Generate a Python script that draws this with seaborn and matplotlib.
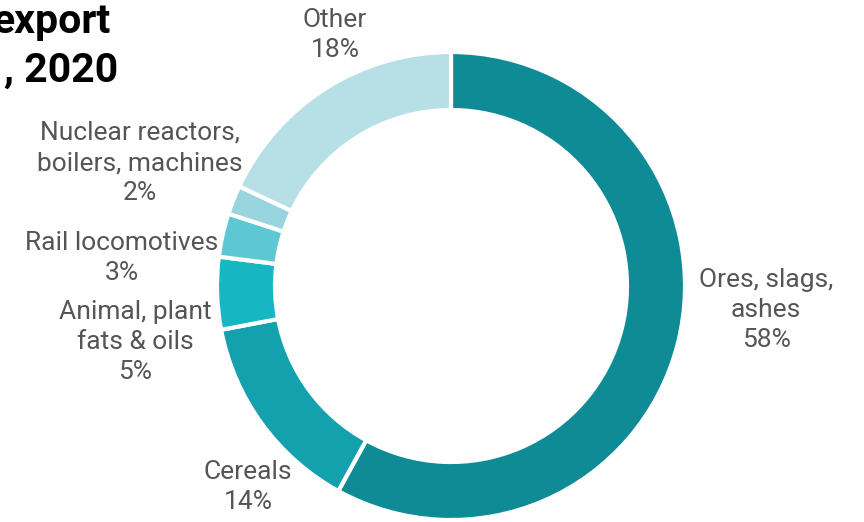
import matplotlib
matplotlib.use("Agg")
import matplotlib.pyplot as plt
import seaborn as sns

# data
categories = ["Ores, slags,\nashes", "Cereals", "Animal, plant\nfats & oils",
              "Rail locomotives", "Nuclear reactors,\nboilers, machines", "Other"]
shares = [58, 14, 5, 3, 2, 18]
colors = ["#0f8b96", "#13a1ae", "#17b6c3", "#5dc8d4", "#98d5de", "#b6e0e6"]

# label anchor points (pixel space, y from top)
label_pos = [(766, 310), (248, 487), (135, 342), (122, 258), (140, 163), (335, 35)]

sns.set_theme(style="white")
plt.rcParams["font.family"] = ["Roboto", "DejaVu Sans"]

W, H = 864, 522
fig = plt.figure(figsize=(W / 100, H / 100), dpi=100)
ax = fig.add_axes([0, 0, 1, 1])

cx, cy, r = 451, H - 286, 234
ax.pie(shares, colors=colors, startangle=90, counterclock=False,
       center=(cx, cy), radius=r, frame=True,
       wedgeprops=dict(width=58, edgecolor="white", linewidth=3))
ax.set_xlim(0, W)
ax.set_ylim(0, H)
ax.axis("off")

for cat, val, (x, y) in zip(categories, shares, label_pos):
    ax.text(x, H - y, f"{cat}\n{val}%", ha="center", va="center",
            fontsize=19, color="#555555", linespacing=1.33)

fig.text(111 / W, 1 - 33 / H, "export", ha="right", va="baseline",
         fontsize=29.5, fontweight="bold", color="black")
fig.text(118 / W, 1 - 82 / H, ", 2020", ha="right", va="baseline",
         fontsize=29.5, fontweight="bold", color="black")

fig.savefig("out.png", dpi=100)
